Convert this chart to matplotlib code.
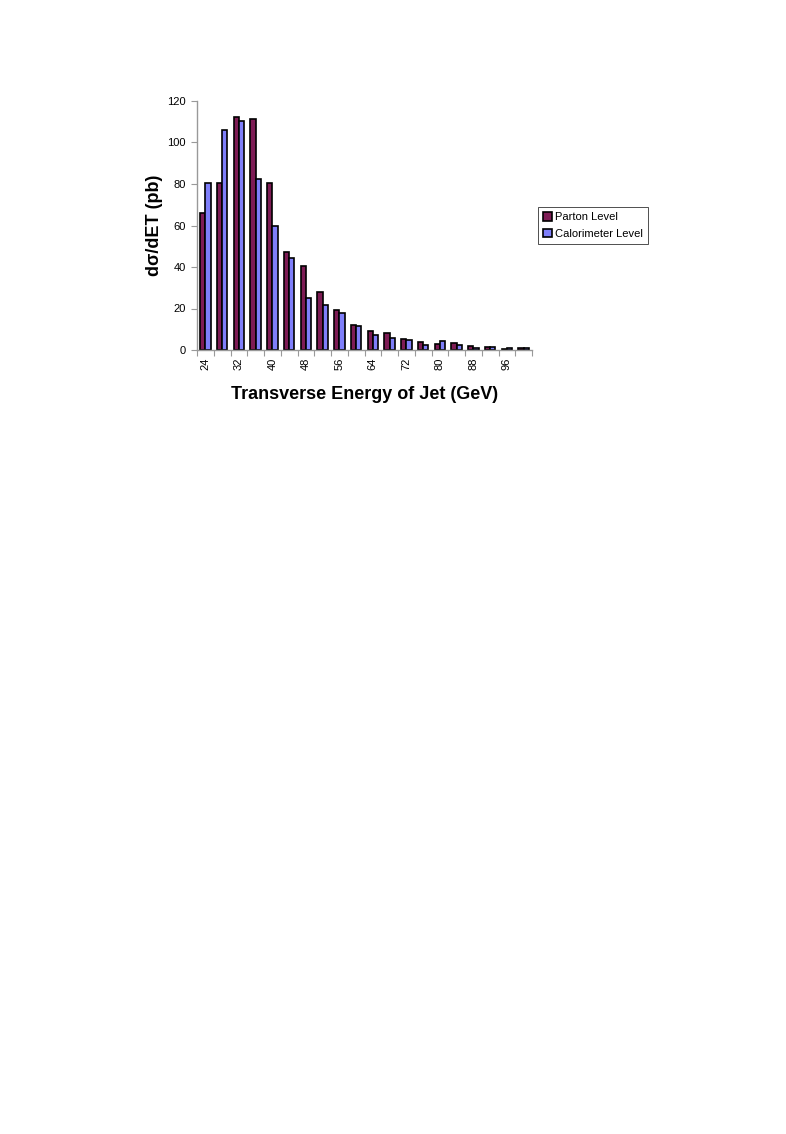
import matplotlib
matplotlib.use("Agg")
import matplotlib.pyplot as plt
import numpy as np

plt.rcParams['font.family'] = ['Liberation Sans', 'DejaVu Sans']

energies = [24, 28, 32, 36, 40, 44, 48, 52, 56, 60, 64, 68, 72, 76, 80, 84, 88, 92, 96, 100]
parton = [66, 80.5, 112.5, 111.5, 80.5, 47, 40.5, 28, 19.3, 12, 9.1, 8, 5.3, 4, 2.8, 3.2, 1.9, 1.4, 0.7, 1.0]
calorimeter = [80.5, 106, 110.5, 82.5, 60, 44.5, 25, 21.8, 17.7, 11.5, 7.4, 6, 4.8, 2.4, 4.1, 2.2, 1.1, 1.3, 0.9, 1.0]
tick_labels = ["24", "", "32", "", "40", "", "48", "", "56", "", "64", "", "72", "", "80", "", "88", "", "96", ""]

fig = plt.figure(figsize=(7.86, 11.34), dpi=100)
ax = fig.add_axes([197/786, 1 - 350/1134, (532 - 197)/786, (350 - 101)/1134])

x = np.arange(len(energies))
w = 0.32
ax.bar(x - w/2, parton, width=w, color='#7E1C55', edgecolor='black', linewidth=1.2,
       label='Parton Level')
ax.bar(x + w/2, calorimeter, width=w, color='#7F7FFA', edgecolor='black', linewidth=1.2,
       label='Calorimeter Level')

ax.set_xlim(-0.5, len(energies) - 0.5)
ax.set_ylim(0, 120)
ax.set_yticks(range(0, 121, 20))
ax.tick_params(axis='y', labelsize=8, length=4, color='#999999', pad=4)

# category boundary ticks (Excel style)
ax.set_xticks(np.arange(-0.5, len(energies), 1.0))
ax.set_xticklabels([])
ax.tick_params(axis='x', which='major', length=4, color='#999999')
ax.set_xticks(x, minor=True)
ax.set_xticklabels(tick_labels, minor=True, rotation=90, fontsize=8)
ax.tick_params(axis='x', which='minor', length=0, pad=5.5)

for s in ['top', 'right']:
    ax.spines[s].set_visible(False)
for s in ['left', 'bottom']:
    ax.spines[s].set_color('#999999')
    ax.spines[s].set_linewidth(1.0)

ax.set_ylabel('dσ/dET (pb)', fontsize=13, fontweight='bold')
ax.yaxis.set_label_coords((163 - 197) / 335, 0.5)
ax.set_xlabel('Transverse Energy of Jet (GeV)', fontsize=13, fontweight='bold')
ax.xaxis.set_label_coords(0.5, (350 - 386) / 249)

leg = fig.legend(loc='upper left', bbox_to_anchor=(538/786, 1 - 207/1134), fontsize=8,
                 frameon=True, fancybox=False, edgecolor='black', handlelength=0.8,
                 handleheight=0.8, handletextpad=0.3, borderpad=0.45, labelspacing=0.6,
                 borderaxespad=0)
leg.get_frame().set_linewidth(0.6)

fig.savefig('out.png', dpi=100)
